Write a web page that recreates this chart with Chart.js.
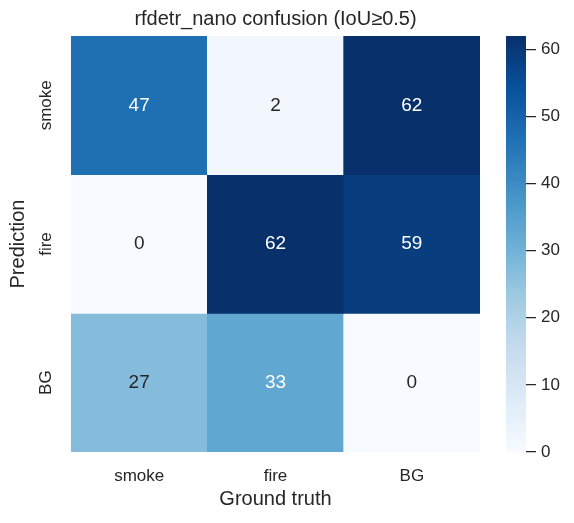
<!DOCTYPE html>
<html><head><meta charset="utf-8">
<script src="https://cdn.jsdelivr.net/npm/chart.js@4"></script>
<style>
html,body{margin:0;padding:0;background:#fff;overflow:hidden}
#wrap{position:relative;width:574px;height:523px}
canvas{position:absolute;left:0;top:0}
</style></head><body>
<div id="wrap"><canvas id="heat" width="574" height="523"></canvas><canvas id="cbar" width="574" height="523"></canvas></div>
<script>
const TITLE = 'rfdetr_nano confusion (IoU≥0.5)';
const X_LABEL = 'Ground truth';
const Y_LABEL = 'Prediction';
const COLUMNS = ['smoke', 'fire', 'BG'];
const ROWS = ['smoke', 'fire', 'BG'];
const ROW_SMOKE = [47, 2, 62];
const ROW_FIRE = [0, 62, 59];
const ROW_BG = [27, 33, 0];
const MATRIX = [ROW_SMOKE, ROW_FIRE, ROW_BG];
const VMIN = 0, VMAX = 62;
const CB_TICKS = [0, 10, 20, 30, 40, 50, 60];
const BLUES = ['#f7fbff','#deebf7','#c6dbef','#9ecae1','#6baed6','#4292c6','#2171b5','#08519c','#08306b'];

const FONT = "'Liberation Sans', Arial, sans-serif";
const TEXT = '#262626';

function hexRgb(h){return [parseInt(h.slice(1,3),16),parseInt(h.slice(3,5),16),parseInt(h.slice(5,7),16)];}
const BLUES_RGB = BLUES.map(hexRgb);
function cmapRgb(v){
  let t = (v - VMIN) / (VMAX - VMIN);
  t = Math.max(0, Math.min(1, t));
  const p = t * (BLUES_RGB.length - 1);
  const i = Math.min(Math.floor(p), BLUES_RGB.length - 2);
  const f = p - i;
  const a = BLUES_RGB[i], b = BLUES_RGB[i+1];
  return [0,1,2].map(k => Math.round(a[k] + (b[k]-a[k]) * f));
}
function cmap(v){const c = cmapRgb(v); return `rgb(${c[0]},${c[1]},${c[2]})`;}
function lum(c){
  const l = c.map(x => { x /= 255; return x <= 0.03928 ? x/12.92 : Math.pow((x+0.055)/1.055, 2.4); });
  return 0.2126*l[0] + 0.7152*l[1] + 0.0722*l[2];
}

const annotPlugin = {
  id: 'annot',
  afterDatasetsDraw(chart){
    const ctx = chart.ctx;
    ctx.save();
    ctx.font = `19px ${FONT}`;
    ctx.textAlign = 'center';
    ctx.textBaseline = 'middle';
    MATRIX.forEach((row, r) => {
      const meta = chart.getDatasetMeta(r);
      row.forEach((v, c) => {
        const el = meta.data[c];
        ctx.fillStyle = lum(cmapRgb(v)) > 0.408 ? TEXT : '#ffffff';
        ctx.fillText(String(v), el.x, (el.y + el.base) / 2);
      });
    });
    ctx.restore();
  }
};

const yLabelPlugin = {
  id: 'ylabels',
  afterDraw(chart){
    const ys = chart.scales.y;
    const ctx = chart.ctx;
    ctx.save();
    ctx.font = `17px ${FONT}`;
    ctx.fillStyle = TEXT;
    ctx.textAlign = 'center';
    ctx.textBaseline = 'middle';
    ys.ticks.forEach((t, i) => {
      const py = ys.getPixelForValue(t.value);
      ctx.save();
      ctx.translate(ys.right - 25, py);
      ctx.rotate(-Math.PI / 2);
      ctx.fillText(ROWS[i], 0, 0);
      ctx.restore();
    });
    ctx.restore();
  }
};

new Chart(document.getElementById('heat'), {
  type: 'bar',
  data: {
    labels: COLUMNS,
    datasets: MATRIX.map((row, r) => ({
      label: ROWS[r],
      data: row.map(() => [r, r + 1]),
      backgroundColor: row.map(v => cmap(v)),
      borderWidth: 0,
      barPercentage: 1,
      categoryPercentage: 1,
      grouped: false
    }))
  },
  options: {
    responsive: false,
    animation: false,
    events: [],
    layout: {padding: {left: 0, right: 94, top: 0, bottom: 0}},
    plugins: {
      legend: {display: false},
      tooltip: {enabled: false},
      title: {display: false}
    },
    scales: {
      x: {
        type: 'category', offset: true,
        grid: {display: false}, border: {display: false},
        ticks: {color: TEXT, font: {family: FONT, size: 17}, padding: 6, maxRotation: 0},
        title: {display: true, text: X_LABEL, color: TEXT, font: {family: FONT, size: 20}, padding: {top: 0, bottom: 12}},
        afterFit: s => { s.height = 71; }
      },
      xTop: {
        type: 'category', position: 'top', offset: true,
        grid: {display: false}, border: {display: false},
        ticks: {display: false},
        title: {display: true, text: TITLE, color: TEXT, font: {family: FONT, size: 20}, padding: {top: 7, bottom: 0}},
        afterFit: s => { s.height = 36; }
      },
      y: {
        type: 'linear', min: 0, max: 3, reverse: true,
        grid: {display: false}, border: {display: false},
        afterBuildTicks: s => { s.ticks = ROWS.map((_, i) => ({value: i + 0.5})); },
        ticks: {display: false},
        title: {display: true, text: Y_LABEL, color: TEXT, font: {family: FONT, size: 20}, padding: {top: 6.5, bottom: 0}},
        afterFit: s => { s.width = 71; }
      }
    }
  },
  plugins: [annotPlugin, yLabelPlugin]
});

function cbGradient(context){
  const chart = context.chart;
  const ys = chart.scales.y;
  if (!chart.chartArea || !ys) return cmap(VMAX / 2);
  const y0 = ys.getPixelForValue(VMIN), y1 = ys.getPixelForValue(VMAX);
  const g = chart.ctx.createLinearGradient(0, y0, 0, y1);
  const n = 64;
  for (let i = 0; i <= n; i++) {
    const v = VMIN + (VMAX - VMIN) * i / n;
    g.addColorStop(i / n, cmap(v));
  }
  return g;
}

new Chart(document.getElementById('cbar'), {
  type: 'bar',
  data: {
    labels: ['colorbar'],
    datasets: [{data: [[VMIN, VMAX]], backgroundColor: cbGradient, borderWidth: 0, barPercentage: 1, categoryPercentage: 1}]
  },
  options: {
    responsive: false,
    animation: false,
    events: [],
    layout: {padding: {left: 506, right: 0, top: 36, bottom: 71}},
    plugins: {legend: {display: false}, tooltip: {enabled: false}, title: {display: false}},
    scales: {
      x: {display: false, offset: true},
      y: {
        position: 'right', min: VMIN, max: VMAX,
        afterBuildTicks: s => { s.ticks = CB_TICKS.map(v => ({value: v})); },
        grid: {drawOnChartArea: false, drawTicks: true, tickLength: 10, color: TEXT, lineWidth: 1.25},
        border: {display: false},
        ticks: {color: TEXT, font: {family: FONT, size: 17}, padding: 5},
        afterFit: s => { s.width = 48; }
      }
    }
  }
});
</script>
</body></html>
